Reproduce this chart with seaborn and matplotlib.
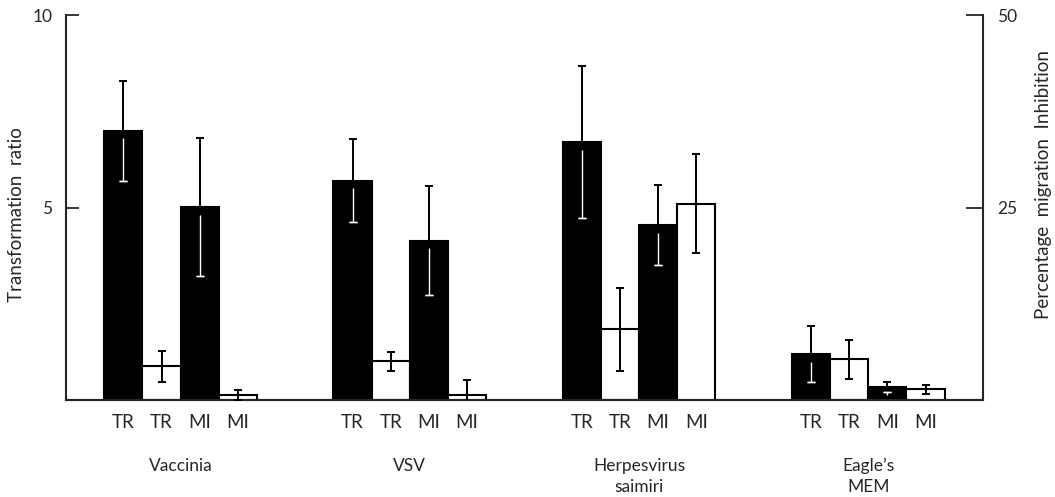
import numpy as np
import pandas as pd
import matplotlib
matplotlib.use("Agg")
import matplotlib.pyplot as plt
import matplotlib.transforms as mtransforms
import seaborn as sns

# values
groups = ["Vaccinia", "VSV", "Herpesvirus\nsaimiri", "Eagle\u2019s\nMEM"]
bar_labels = ["TR", "TR", "MI", "MI"]

# transformation ratio (left axis)
tr_black = [7.0, 5.7, 6.7, 1.2]
tr_black_err = [1.3, 1.07, 1.97, 0.72]
tr_white = [0.88, 1.01, 1.84, 1.06]
tr_white_err = [0.4, 0.25, 1.08, 0.5]

# percentage migration inhibition (right axis)
mi_black = [25.1, 20.7, 22.7, 1.7]
mi_black_err = [9.0, 7.1, 5.2, 0.7]
mi_white = [0.65, 0.7, 25.5, 1.4]
mi_white_err = [0.65, 1.9, 6.4, 0.6]


def make_frame(black, black_err, white, white_err, offset):
    # bar slots: each group takes 6 units, 4 bars wide with a gap
    rows = []
    for g in range(len(groups)):
        start = 1 + 6 * g + offset
        rows.append({"pos": start, "value": black[g], "err": black_err[g], "fill": "black"})
        rows.append({"pos": start + 1, "value": white[g], "err": white_err[g], "fill": "white"})
    return pd.DataFrame(rows)


def draw_bars(ax, df):
    sns.barplot(data=df, x="pos", y="value", hue="fill",
                palette={"black": "black", "white": "white"},
                native_scale=True, width=1, dodge=False, saturation=1,
                edgecolor="black", linewidth=1.5, errorbar=None,
                legend=False, ax=ax)
    ax.errorbar(df["pos"], df["value"], yerr=df["err"], fmt="none",
                ecolor="black", elinewidth=1.4, capsize=2.8, capthick=1.4, zorder=5)
    # lower half of the error bar shows white inside the black bars
    dark = df[df["fill"] == "black"]
    ax.vlines(dark["pos"], dark["value"] - dark["err"], dark["value"] - 0.02 * ax.get_ylim()[1],
              color="white", lw=1.0, zorder=6)
    ax.errorbar(dark["pos"], dark["value"] - dark["err"], yerr=0, fmt="none",
                ecolor="white", elinewidth=1.0, capsize=2.8, capthick=1.0, zorder=6)


sns.set_style("ticks")
plt.rcParams["font.family"] = ["Lato", "DejaVu Sans"]

fig = plt.figure(figsize=(10.55, 4.97), dpi=100)
ax = fig.add_axes([0.0626, 0.195, 0.869, 0.7746])
ax2 = ax.twinx()

ax.set_ylim(0, 10)
ax2.set_ylim(0, 50)

tr_df = make_frame(tr_black, tr_black_err, tr_white, tr_white_err, 0)
mi_df = make_frame(mi_black, mi_black_err, mi_white, mi_white_err, 2)
draw_bars(ax, tr_df)
draw_bars(ax2, mi_df)

n_slots = 6 * len(groups)
ax.set_xlim(-0.5, n_slots - 0.5)

# bar labels under each bar
positions = []
for g in range(len(groups)):
    positions += [1 + 6 * g + i for i in range(4)]
ax.set_xticks(positions)
ax.set_xticklabels(bar_labels * len(groups), fontsize=13.5)
ax.tick_params(axis="x", length=0, pad=10)
ax2.tick_params(axis="x", length=0)
ax.set_xlabel("")
ax2.set_xlabel("")

# group names
trans = mtransforms.blended_transform_factory(ax.transData, ax.transAxes)
for g, name in enumerate(groups):
    ax.text(1 + 6 * g + 1.5, -0.15, name, transform=trans, ha="center", va="top",
            fontsize=12.5, linespacing=1.4)

ax.set_yticks([5, 10])
ax.set_yticklabels(["5", "10"], fontsize=12.5)
ax.tick_params(axis="y", direction="in", length=9, width=1.3, pad=10)
ax2.set_yticks([25, 50])
ax2.set_yticklabels(["25", "50"], fontsize=12.5)
ax2.tick_params(axis="y", direction="in", length=12, width=1.3, pad=10)

ax.set_ylabel("Transformation  ratio", fontsize=13.5, va="center", ha="center")
ax.yaxis.set_label_coords(-0.0545, 0.483)
ax2.set_ylabel("Percentage  migration  Inhibition", fontsize=13.5, rotation=90,
               va="center", ha="center")
ax2.yaxis.set_label_coords(1.066, 0.561)

for a in (ax, ax2):
    a.spines["top"].set_visible(False)
    for s in ("left", "right", "bottom"):
        a.spines[s].set_linewidth(1.5)
ax.spines["right"].set_visible(False)
ax2.spines["left"].set_visible(False)

fig.savefig("out.png", dpi=100)
